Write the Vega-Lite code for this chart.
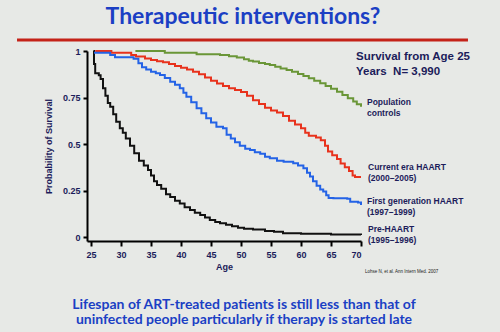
{
  "$schema": "https://vega.github.io/schema/vega-lite/v6.json",
  "autosize": {"type": "none"},
  "width": 274,
  "height": 190,
  "padding": {"left": 87, "top": 51, "right": 139, "bottom": 91},
  "background": "#e7e9e6",
  "config": {
    "view": {"stroke": null},
    "axis": {
      "grid": false,
      "domainColor": "#000000",
      "domainWidth": 2,
      "tickColor": "#000000",
      "tickWidth": 2,
      "tickSize": 4,
      "labelOverlap": false,
      "labelFont": "Liberation Sans",
      "labelFontWeight": "bold",
      "labelFontSize": 9,
      "labelColor": "#1c1c5a",
      "titleFont": "Liberation Sans",
      "titleFontWeight": "bold",
      "titleFontSize": 9,
      "titleColor": "#1c1c5a"
    }
  },
  "layer": [
    {
      "data": {
        "values": [
          {"series": "Pre-HAART", "age": 25.4, "surv": 1.0},
          {"series": "Pre-HAART", "age": 25.5, "surv": 0.93},
          {"series": "Pre-HAART", "age": 25.7, "surv": 0.88},
          {"series": "Pre-HAART", "age": 26.3, "surv": 0.87},
          {"series": "Pre-HAART", "age": 26.6, "surv": 0.85},
          {"series": "Pre-HAART", "age": 27.0, "surv": 0.80},
          {"series": "Pre-HAART", "age": 27.4, "surv": 0.76},
          {"series": "Pre-HAART", "age": 27.8, "surv": 0.72},
          {"series": "Pre-HAART", "age": 28.2, "surv": 0.70},
          {"series": "Pre-HAART", "age": 28.7, "surv": 0.66},
          {"series": "Pre-HAART", "age": 29.2, "surv": 0.62},
          {"series": "Pre-HAART", "age": 29.8, "surv": 0.585},
          {"series": "Pre-HAART", "age": 30.3, "surv": 0.56},
          {"series": "Pre-HAART", "age": 30.8, "surv": 0.53},
          {"series": "Pre-HAART", "age": 31.5, "surv": 0.49},
          {"series": "Pre-HAART", "age": 32.2, "surv": 0.45},
          {"series": "Pre-HAART", "age": 33.0, "surv": 0.41},
          {"series": "Pre-HAART", "age": 33.8, "surv": 0.385},
          {"series": "Pre-HAART", "age": 34.5, "surv": 0.36},
          {"series": "Pre-HAART", "age": 35.0, "surv": 0.33},
          {"series": "Pre-HAART", "age": 35.5, "surv": 0.30},
          {"series": "Pre-HAART", "age": 36.0, "surv": 0.28},
          {"series": "Pre-HAART", "age": 36.7, "surv": 0.26},
          {"series": "Pre-HAART", "age": 37.5, "surv": 0.23},
          {"series": "Pre-HAART", "age": 38.2, "surv": 0.215},
          {"series": "Pre-HAART", "age": 39.0, "surv": 0.195},
          {"series": "Pre-HAART", "age": 39.8, "surv": 0.18},
          {"series": "Pre-HAART", "age": 40.6, "surv": 0.16},
          {"series": "Pre-HAART", "age": 41.5, "surv": 0.145},
          {"series": "Pre-HAART", "age": 42.3, "surv": 0.13},
          {"series": "Pre-HAART", "age": 43.2, "surv": 0.118},
          {"series": "Pre-HAART", "age": 44.0, "surv": 0.105},
          {"series": "Pre-HAART", "age": 44.8, "surv": 0.092},
          {"series": "Pre-HAART", "age": 45.7, "surv": 0.08},
          {"series": "Pre-HAART", "age": 46.5, "surv": 0.074},
          {"series": "Pre-HAART", "age": 47.5, "surv": 0.066},
          {"series": "Pre-HAART", "age": 48.5, "surv": 0.058},
          {"series": "Pre-HAART", "age": 49.5, "surv": 0.05},
          {"series": "Pre-HAART", "age": 50.5, "surv": 0.045},
          {"series": "Pre-HAART", "age": 52.0, "surv": 0.04},
          {"series": "Pre-HAART", "age": 54.0, "surv": 0.032},
          {"series": "Pre-HAART", "age": 55.5, "surv": 0.028},
          {"series": "Pre-HAART", "age": 57.0, "surv": 0.02},
          {"series": "Pre-HAART", "age": 60.0, "surv": 0.017},
          {"series": "Pre-HAART", "age": 65.0, "surv": 0.014},
          {"series": "Pre-HAART", "age": 70.0, "surv": 0.011},

          {"series": "Current era", "age": 25.7, "surv": 1.0},
          {"series": "Current era", "age": 28.4, "surv": 0.99},
          {"series": "Current era", "age": 31.7, "surv": 0.978},
          {"series": "Current era", "age": 32.5, "surv": 0.97},
          {"series": "Current era", "age": 34.0, "surv": 0.96},
          {"series": "Current era", "age": 35.0, "surv": 0.952},
          {"series": "Current era", "age": 36.0, "surv": 0.945},
          {"series": "Current era", "age": 37.0, "surv": 0.94},
          {"series": "Current era", "age": 38.0, "surv": 0.93},
          {"series": "Current era", "age": 39.0, "surv": 0.92},
          {"series": "Current era", "age": 40.0, "surv": 0.91},
          {"series": "Current era", "age": 41.0, "surv": 0.90},
          {"series": "Current era", "age": 42.0, "surv": 0.888},
          {"series": "Current era", "age": 43.0, "surv": 0.875},
          {"series": "Current era", "age": 44.0, "surv": 0.858},
          {"series": "Current era", "age": 45.0, "surv": 0.84},
          {"series": "Current era", "age": 46.0, "surv": 0.825},
          {"series": "Current era", "age": 47.0, "surv": 0.812},
          {"series": "Current era", "age": 48.0, "surv": 0.80},
          {"series": "Current era", "age": 49.0, "surv": 0.79},
          {"series": "Current era", "age": 50.0, "surv": 0.78},
          {"series": "Current era", "age": 51.0, "surv": 0.76},
          {"series": "Current era", "age": 52.0, "surv": 0.735},
          {"series": "Current era", "age": 53.0, "surv": 0.715},
          {"series": "Current era", "age": 54.0, "surv": 0.695},
          {"series": "Current era", "age": 55.0, "surv": 0.68},
          {"series": "Current era", "age": 56.0, "surv": 0.67},
          {"series": "Current era", "age": 57.0, "surv": 0.65},
          {"series": "Current era", "age": 58.0, "surv": 0.625},
          {"series": "Current era", "age": 59.0, "surv": 0.605},
          {"series": "Current era", "age": 60.0, "surv": 0.585},
          {"series": "Current era", "age": 60.7, "surv": 0.56},
          {"series": "Current era", "age": 61.3, "surv": 0.545},
          {"series": "Current era", "age": 62.5, "surv": 0.535},
          {"series": "Current era", "age": 63.3, "surv": 0.52},
          {"series": "Current era", "age": 64.0, "surv": 0.49},
          {"series": "Current era", "age": 64.5, "surv": 0.46},
          {"series": "Current era", "age": 65.2, "surv": 0.44},
          {"series": "Current era", "age": 66.0, "surv": 0.42},
          {"series": "Current era", "age": 66.6, "surv": 0.395},
          {"series": "Current era", "age": 67.3, "surv": 0.375},
          {"series": "Current era", "age": 68.0, "surv": 0.355},
          {"series": "Current era", "age": 68.6, "surv": 0.33},
          {"series": "Current era", "age": 69.0, "surv": 0.323},
          {"series": "Current era", "age": 70.0, "surv": 0.323},

          {"series": "First generation", "age": 25.5, "surv": 0.99},
          {"series": "First generation", "age": 28.2, "surv": 0.978},
          {"series": "First generation", "age": 29.0, "surv": 0.966},
          {"series": "First generation", "age": 32.1, "surv": 0.958},
          {"series": "First generation", "age": 32.9, "surv": 0.934},
          {"series": "First generation", "age": 33.5, "surv": 0.912},
          {"series": "First generation", "age": 34.2, "surv": 0.9},
          {"series": "First generation", "age": 35.0, "surv": 0.889},
          {"series": "First generation", "age": 35.8, "surv": 0.88},
          {"series": "First generation", "age": 36.5, "surv": 0.871},
          {"series": "First generation", "age": 37.3, "surv": 0.855},
          {"series": "First generation", "age": 38.2, "surv": 0.835},
          {"series": "First generation", "age": 39.0, "surv": 0.818},
          {"series": "First generation", "age": 39.8, "surv": 0.80},
          {"series": "First generation", "age": 40.4, "surv": 0.775},
          {"series": "First generation", "age": 40.9, "surv": 0.754},
          {"series": "First generation", "age": 41.7, "surv": 0.725},
          {"series": "First generation", "age": 42.6, "surv": 0.692},
          {"series": "First generation", "age": 43.4, "surv": 0.665},
          {"series": "First generation", "age": 44.2, "surv": 0.638},
          {"series": "First generation", "age": 45.0, "surv": 0.615},
          {"series": "First generation", "age": 45.9, "surv": 0.593},
          {"series": "First generation", "age": 47.0, "surv": 0.585},
          {"series": "First generation", "age": 47.6, "surv": 0.55},
          {"series": "First generation", "age": 48.3, "surv": 0.53},
          {"series": "First generation", "age": 49.0, "surv": 0.51},
          {"series": "First generation", "age": 49.8, "surv": 0.49},
          {"series": "First generation", "age": 50.7, "surv": 0.475},
          {"series": "First generation", "age": 51.5, "surv": 0.468},
          {"series": "First generation", "age": 52.3, "surv": 0.455},
          {"series": "First generation", "age": 53.2, "surv": 0.448},
          {"series": "First generation", "age": 54.0, "surv": 0.432},
          {"series": "First generation", "age": 54.8, "surv": 0.423},
          {"series": "First generation", "age": 56.0, "surv": 0.41},
          {"series": "First generation", "age": 57.1, "surv": 0.405},
          {"series": "First generation", "age": 58.7, "surv": 0.396},
          {"series": "First generation", "age": 59.5, "surv": 0.385},
          {"series": "First generation", "age": 60.4, "surv": 0.369},
          {"series": "First generation", "age": 61.0, "surv": 0.345},
          {"series": "First generation", "age": 61.5, "surv": 0.325},
          {"series": "First generation", "age": 62.0, "surv": 0.30},
          {"series": "First generation", "age": 62.6, "surv": 0.275},
          {"series": "First generation", "age": 63.2, "surv": 0.255},
          {"series": "First generation", "age": 63.7, "surv": 0.244},
          {"series": "First generation", "age": 64.2, "surv": 0.225},
          {"series": "First generation", "age": 64.6, "surv": 0.21},
          {"series": "First generation", "age": 65.4, "surv": 0.208},
          {"series": "First generation", "age": 67.7, "surv": 0.205},
          {"series": "First generation", "age": 68.2, "surv": 0.19},
          {"series": "First generation", "age": 69.5, "surv": 0.185},
          {"series": "First generation", "age": 70.0, "surv": 0.172},

          {"series": "Population", "age": 32.4, "surv": 1.0},
          {"series": "Population", "age": 37.3, "surv": 0.99},
          {"series": "Population", "age": 42.6, "surv": 0.982},
          {"series": "Population", "age": 46.5, "surv": 0.978},
          {"series": "Population", "age": 48.0, "surv": 0.972},
          {"series": "Population", "age": 49.3, "surv": 0.965},
          {"series": "Population", "age": 50.5, "surv": 0.955},
          {"series": "Population", "age": 51.3, "surv": 0.948},
          {"series": "Population", "age": 52.0, "surv": 0.943},
          {"series": "Population", "age": 53.0, "surv": 0.936},
          {"series": "Population", "age": 54.0, "surv": 0.93},
          {"series": "Population", "age": 54.8, "surv": 0.925},
          {"series": "Population", "age": 55.7, "surv": 0.915},
          {"series": "Population", "age": 56.6, "surv": 0.906},
          {"series": "Population", "age": 57.6, "surv": 0.898},
          {"series": "Population", "age": 58.5, "surv": 0.888},
          {"series": "Population", "age": 59.5, "surv": 0.877},
          {"series": "Population", "age": 60.4, "surv": 0.866},
          {"series": "Population", "age": 61.3, "surv": 0.853},
          {"series": "Population", "age": 62.2, "surv": 0.84},
          {"series": "Population", "age": 63.2, "surv": 0.826},
          {"series": "Population", "age": 64.1, "surv": 0.812},
          {"series": "Population", "age": 65.0, "surv": 0.797},
          {"series": "Population", "age": 66.0, "surv": 0.781},
          {"series": "Population", "age": 66.9, "surv": 0.763},
          {"series": "Population", "age": 67.8, "surv": 0.746},
          {"series": "Population", "age": 68.7, "surv": 0.728},
          {"series": "Population", "age": 69.3, "surv": 0.714},
          {"series": "Population", "age": 70.0, "surv": 0.70}
        ]
      },
      "mark": {"type": "line", "interpolate": "step-after", "strokeWidth": 2},
      "encoding": {
        "x": {
          "field": "age", "type": "quantitative",
          "scale": {"domain": [24.333, 70], "nice": false, "zero": false},
          "axis": {"values": [25, 30, 35, 40, 45, 50, 55, 60, 65, 70], "tickCount": 10, "labelOverlap": false, "title": "Age", "tickSize": 5, "labelPadding": 4, "titlePadding": 3}
        },
        "y": {
          "field": "surv", "type": "quantitative",
          "scale": {"domain": [-0.0215, 1], "nice": false, "zero": false},
          "axis": {"values": [0, 0.25, 0.5, 0.75, 1], "tickCount": 5, "labelExpr": "toString(datum.value)", "title": "Probability of Survival", "labelPadding": 3, "titlePadding": 9}
        },
        "color": {
          "field": "series", "type": "nominal",
          "scale": {"domain": ["Population", "Current era", "First generation", "Pre-HAART"], "range": ["#6a9637", "#e8321c", "#2463e6", "#111111"]},
          "legend": null
        },
        "detail": {"field": "series"}
      }
    },
    {
      "data": {"values": [{}]},
      "mark": {"type": "rule", "color": "#c42218", "strokeWidth": 3},
      "encoding": {"x": {"datum": 12.67}, "x2": {"datum": 87.83}, "y": {"datum": 1.059}}
    },
    {
      "data": {"values": [{}]},
      "mark": {"type": "text", "text": "Therapeutic interventions?", "font": "Lato", "fontWeight": "bold", "fontSize": 23, "color": "#1b3fc4", "align": "center", "baseline": "middle"},
      "encoding": {"x": {"datum": 50.33}, "y": {"datum": 1.183}}
    },
    {
      "data": {"values": [{}]},
      "mark": {"type": "text", "text": ["Lifespan of ART-treated patients is still less than that of", "uninfected people particularly if therapy is started late"], "font": "Lato", "fontWeight": "bold", "fontSize": 14, "lineHeight": 14.5, "color": "#1b3fc4", "align": "center", "baseline": "middle"},
      "encoding": {"x": {"datum": 50.5}, "y": {"datum": -0.366}}
    },
    {
      "data": {"values": [{}]},
      "mark": {"type": "text", "text": ["Survival from Age 25", "Years\u00a0 N= 3,990"], "font": "Liberation Sans", "fontWeight": "bold", "fontSize": 11.5, "lineHeight": 15, "color": "#1c1c5a", "align": "left", "baseline": "middle"},
      "encoding": {"x": {"datum": 69.17}, "y": {"datum": 0.968}}
    },
    {
      "data": {"values": [{}]},
      "mark": {"type": "text", "text": ["Population", "controls"], "font": "Liberation Sans", "fontWeight": "bold", "fontSize": 8.5, "lineHeight": 11, "color": "#1c1c5a", "align": "left", "baseline": "middle"},
      "encoding": {"x": {"datum": 71.0}, "y": {"datum": 0.726}}
    },
    {
      "data": {"values": [{}]},
      "mark": {"type": "text", "text": ["Current era HAART", "(2000\u20132005)"], "font": "Liberation Sans", "fontWeight": "bold", "fontSize": 8.5, "lineHeight": 11, "color": "#1c1c5a", "align": "left", "baseline": "middle"},
      "encoding": {"x": {"datum": 71.17}, "y": {"datum": 0.376}}
    },
    {
      "data": {"values": [{}]},
      "mark": {"type": "text", "text": ["First generation HAART", "(1997\u20131999)"], "font": "Liberation Sans", "fontWeight": "bold", "fontSize": 8.5, "lineHeight": 11, "color": "#1c1c5a", "align": "left", "baseline": "middle"},
      "encoding": {"x": {"datum": 71.0}, "y": {"datum": 0.194}}
    },
    {
      "data": {"values": [{}]},
      "mark": {"type": "text", "text": ["Pre-HAART", "(1995\u20131996)"], "font": "Liberation Sans", "fontWeight": "bold", "fontSize": 8.5, "lineHeight": 11, "color": "#1c1c5a", "align": "left", "baseline": "middle"},
      "encoding": {"x": {"datum": 71.17}, "y": {"datum": 0.043}}
    },
    {
      "data": {"values": [{}]},
      "mark": {"type": "text", "text": "Lohse N, et al. Ann Intern Med. 2007", "font": "Liberation Sans", "fontSize": 4.5, "color": "#222222", "align": "left", "baseline": "middle"},
      "encoding": {"x": {"datum": 70.67}, "y": {"datum": -0.188}}
    }
  ]
}
